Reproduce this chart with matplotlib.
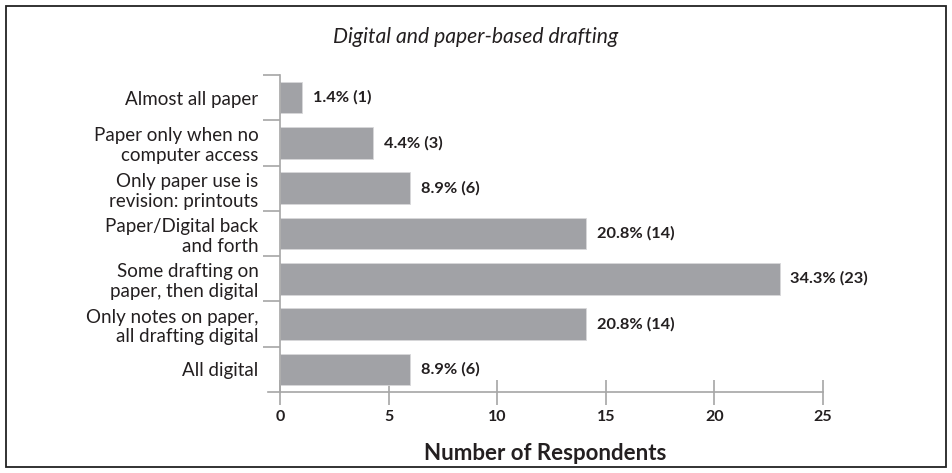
import matplotlib.pyplot as plt
from matplotlib.patches import Rectangle
import numpy as np

# data, listed bottom to top
categories = ['All digital',
              'Only notes on paper,\nall drafting digital',
              'Some drafting on\npaper, then digital',
              'Paper/Digital back\nand forth',
              'Only paper use is\nrevision: printouts',
              'Paper only when no\ncomputer access',
              'Almost all paper']
counts = [6, 14, 23, 14, 6, 3, 1]
# bar lengths as drawn in the original (the 3-respondent bar is drawn longer)
bar_lengths = [6, 14.1, 23, 14.1, 6, 4.3, 1]
percents = ['8.9%', '20.8%', '34.3%', '20.8%', '8.9%', '4.4%', '1.4%']
x_ticks = [0, 5, 10, 15, 20, 25]

plt.rcParams['font.family'] = ['Lato', 'DejaVu Sans']
text_color = '#231f20'
bar_color = '#a1a2a6'
axis_color = '#a6a6a6'

fig = plt.figure(figsize=(9.52, 4.73), dpi=100)
ax = fig.add_axes([268 / 952, 1 - 392 / 473, (823 - 268) / 952, (392 - 75) / 473])

y = np.arange(len(categories))
ax.barh(y, bar_lengths, height=0.7, color=bar_color, edgecolor='#d8d8da', linewidth=0.6, zorder=2)

for yi, b, c, p in zip(y, bar_lengths, counts, percents):
    ax.text(b + 0.5, yi, f'{p} ({c})', va='center', ha='left', fontsize=11.8,
            fontweight='bold', color=text_color)

ax.set_xlim(-0.55, 25)
ax.set_ylim(-0.5, len(categories) - 0.5)

for s in ['top', 'right']:
    ax.spines[s].set_visible(False)
ax.spines['left'].set_position(('data', 0))
ax.spines['left'].set_color(axis_color)
ax.spines['bottom'].set_color(axis_color)
ax.spines['left'].set_linewidth(1.2)
ax.spines['bottom'].set_linewidth(1.2)

ax.set_xticks(x_ticks)
ax.set_xticklabels([str(t) for t in x_ticks], fontsize=11.5, fontweight='bold', color=text_color)
ax.tick_params(axis='x', direction='inout', length=18, width=1.2, color=axis_color, pad=4)

# category boundaries get the tick marks, labels sit between them
ax.set_yticks(np.arange(len(categories)) + 0.5)
ax.set_yticklabels([])
ax.set_yticks(y, minor=True)
ax.set_yticklabels(categories, minor=True, fontsize=13.5, color=text_color, ha='right',
                   multialignment='right', linespacing=1.2)
ax.tick_params(axis='y', which='major', direction='out', length=12, width=1.2, color=axis_color)
ax.tick_params(axis='y', which='minor', length=0, pad=15.5)

ax.set_xlabel('Number of Respondents', fontsize=16, fontweight='bold', color=text_color, labelpad=14)
fig.text(0.5, 1 - 37 / 473, 'Digital and paper-based drafting', ha='center', va='center',
         fontsize=15.2, style='italic', color=text_color)

# frame around the whole figure
fig.patches.append(Rectangle((6 / 952, 6 / 473), 940 / 952, 461 / 473, transform=fig.transFigure,
                             fill=False, edgecolor='#222222', linewidth=1.3))

fig.savefig('out.png', dpi=100)
